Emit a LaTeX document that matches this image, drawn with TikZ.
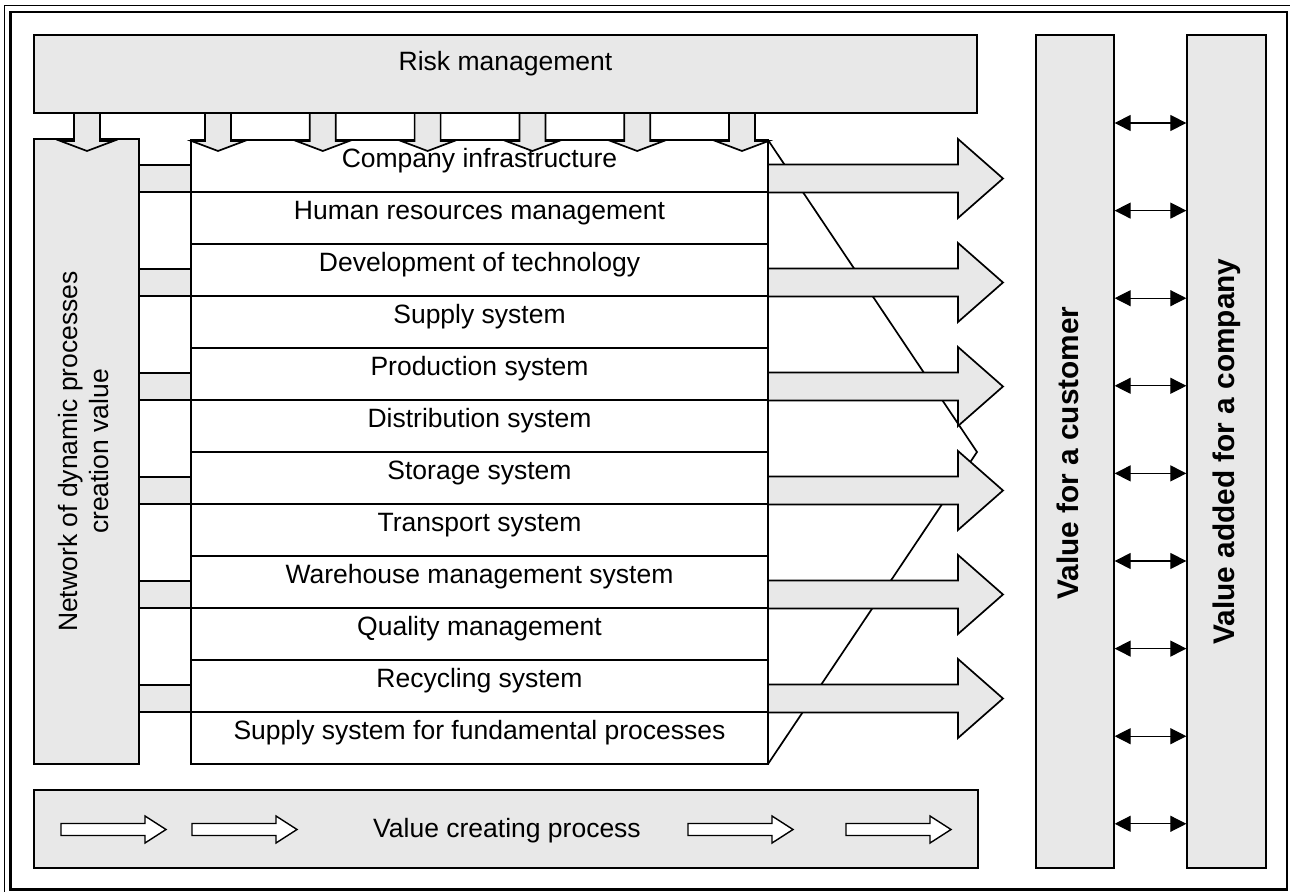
\documentclass[tikz,border=0pt]{standalone}
\usepackage{fontspec}
\setmainfont{Liberation Sans}
\usetikzlibrary{arrows.meta}
\definecolor{panelgray}{RGB}{232,232,232}
\newcommand{\sidefont}{\bfseries\fontsize{14.9}{18}\selectfont}
\newcommand{\rowfont}{\fontsize{13.25}{15.5}\selectfont}
\tikzstyle{panel} = [draw, fill=panelgray, line width=0.65pt, inner sep=0pt]
\tikzstyle{rowline} = [line width=0.85pt]
\tikzstyle{blockarrow} = [draw, fill=panelgray, line width=0.85pt, line join=miter]
\tikzstyle{hollowarrow} = [draw, fill=white, line width=0.7pt, line join=miter]
\tikzstyle{label} = [font=\rowfont, inner sep=0pt, text height=0.72em, text depth=0.21em]
\tikzstyle{twoway} = [{Triangle[length=8pt,width=8pt]}-{Triangle[length=8pt,width=8pt]}, line width=0.6pt]

\begin{document}
\begin{tikzpicture}[x=0.5pt,y=-0.5pt]
	\useasboundingbox (0,0) rectangle (1290,892);
	% frame
	\draw[line width=0.5pt] (4.5,892) -- (4.5,6) -- (1290,6);
	\draw[line width=1.2pt] (10.5,12) rectangle (1287,889.5);
	% risk management
	\node[panel, minimum width=471.5pt, minimum height=39pt] (risk) at (505.5,74) {};
	\node[label] (risktext) at (505.5,65) {Risk management};
	% network column
	\node[panel, minimum width=52.5pt, minimum height=312.5pt] (network) at (86.5,451.5)
		{\rotatebox{90}{\rowfont\begin{tabular}{@{}c@{}}Network of dynamic processes\\creation value\end{tabular}}};
	% processes
	\foreach \name [count=\i] in {Company infrastructure, Human resources management, Development of technology, Supply system, Production system, Distribution system, Storage system, Transport system, Warehouse management system, Quality management, Recycling system, Supply system for fundamental processes}{
		\draw[rowline, fill=white] (191,{88+52*\i}) rectangle (768,{140+52*\i});
		\node[label] (row\i) at (479.5,{110+52*\i}) {\name};
	}
	\draw[rowline] (768,140) -- (977,452) -- (768,764);
	% links and outputs
	\foreach \k in {0,...,5}{
		\pgfmathsetmacro{\c}{178.5+104*\k}
		\draw[panel] (139,\c-13.5) rectangle (191,\c+13.5);
		\draw[blockarrow] (768,\c-14) -- (958,\c-14) -- (958,\c-39.5) -- (1003,\c) -- (958,\c+39.5) -- (958,\c+14) -- (768,\c+14) -- cycle;
	}
	% arrows from risk management
	\foreach \x in {87,218,322.8,427.6,532.4,637.2,742}{
		\draw[blockarrow] (\x-13,113) -- (\x-13,141) -- (\x-26.5,141) -- (\x,151) -- (\x+26.5,141) -- (\x+13,141) -- (\x+13,113) -- cycle;
	}
	% values
	\node[panel, minimum width=39pt, minimum height=416.5pt] (customer) at (1075,451.5) {};
	\node[inner sep=0pt] (customertext) at (1067.5,453) {\rotatebox{90}{\sidefont Value for a customer}};
	\node[panel, minimum width=39.5pt, minimum height=416.5pt] (company) at (1226.5,451.5)
		{\rotatebox{90}{\sidefont Value added for a company}};
	\foreach \k in {0,...,8}{
		\draw[twoway] (customer.east |- 0,{123+87.6*\k}) -- (company.west |- 0,{123+87.6*\k});
	}
	% value creating process
	\node[panel, minimum width=472pt, minimum height=39pt] (process) at (506,829) {};
	\node[label] (processtext) at (507,832) {Value creating process};
	\foreach \x in {61,192,688,846}{
		\draw[hollowarrow] (\x,823.5) -- (\x+84,823.5) -- (\x+84,816) -- (\x+105,829.5) -- (\x+84,843) -- (\x+84,835.5) -- (\x,835.5) -- cycle;
	}
\end{tikzpicture}
\end{document}
